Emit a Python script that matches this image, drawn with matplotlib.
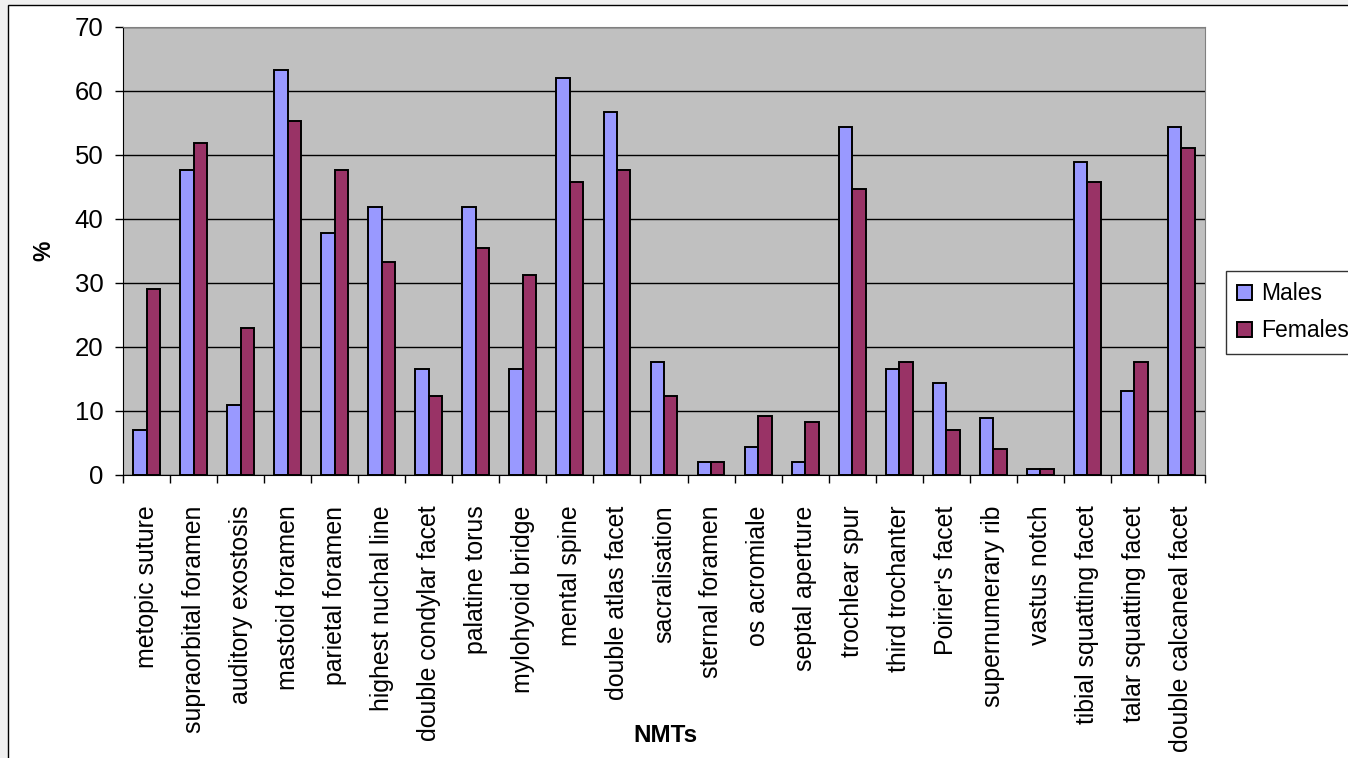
import numpy as np
import matplotlib
matplotlib.use("Agg")
import matplotlib.pyplot as plt
from matplotlib.patches import Rectangle

plt.rcParams.update({
    "font.family": ["Liberation Sans", "DejaVu Sans"],
    "font.size": 17,
})

traits = [
    "metopic suture", "supraorbital foramen", "auditory exostosis",
    "mastoid foramen", "parietal foramen", "highest nuchal line",
    "double condylar facet", "palatine torus", "mylohyoid bridge",
    "mental spine", "double atlas facet", "sacralisation",
    "sternal foramen", "os acromiale", "septal aperture", "trochlear spur",
    "third trochanter", "Poirier's facet", "supernumerary rib",
    "vastus notch", "tibial squatting facet", "talar squatting facet",
    "double calcaneal facet",
]
males = [7.0, 47.7, 10.9, 63.2, 37.8, 41.9, 16.6, 41.9, 16.6, 62.0, 56.7,
         17.7, 2.0, 4.4, 2.0, 54.4, 16.6, 14.3, 8.9, 1.0, 48.8, 13.1, 54.4]
females = [29.0, 51.8, 23.0, 55.2, 47.7, 33.2, 12.4, 35.4, 31.2, 45.7, 47.7,
           12.4, 2.0, 9.2, 8.2, 44.6, 17.7, 7.1, 4.0, 1.0, 45.7, 17.7, 51.0]
y_ticks = [0, 10, 20, 30, 40, 50, 60, 70]

W, H = 1348, 758
fig = plt.figure(figsize=(W / 100, H / 100), dpi=100)
fig.patch.set_facecolor("#f0f0f0")
# white chart frame, only its top and left edges fall inside the image
fig.add_artist(Rectangle((8 / W, -0.2), 1.2, 1.2 - 5 / H, transform=fig.transFigure,
                         facecolor="white", edgecolor="black", linewidth=1, zorder=-5))

ax = fig.add_axes([123 / W, 1 - 475 / H, (1205 - 123) / W, (475 - 26.7) / H])
ax.set_facecolor("#c0c0c0")

x = np.arange(len(traits))
w = 0.2857
ax.bar(x - w / 2, males, w, color="#9999ff", edgecolor="black",
       linewidth=1.4, label="Males", zorder=3)
ax.bar(x + w / 2, females, w, color="#993366", edgecolor="black",
       linewidth=1.4, label="Females", zorder=3)

ax.set_xlim(-0.5, len(traits) - 0.5)
ax.set_ylim(0, 70)
ax.set_yticks(y_ticks)
ax.yaxis.grid(True, color="black", linewidth=1)
ax.set_axisbelow(True)

ax.set_xticks(x)
ax.set_xticklabels(traits, rotation=90, ha="center", va="top", fontsize=17.9)
ax.set_xticks(np.arange(len(traits) + 1) - 0.5, minor=True)
ax.tick_params(axis="x", which="major", length=0, pad=22)
ax.tick_params(axis="x", which="minor", length=6, width=1, direction="out")
ax.tick_params(axis="y", length=6, width=1, direction="out", pad=8,
               labelsize=18.5)

for side in ("top", "right"):
    ax.spines[side].set_color("#808080")
for side in ("left", "bottom"):
    ax.spines[side].set_color("black")

ax.set_ylabel("%", fontweight="bold", fontsize=16.5)
ax.yaxis.set_label_coords(-68 / (1205 - 123), 0.5)
fig.text(665 / W, 1 - 736 / H, "NMTs", fontweight="bold", fontsize=17.5,
         ha="center", va="center")

leg = fig.legend(loc="upper left", bbox_to_anchor=(1226 / W, 1 - 271 / H),
                 fontsize=16.5, frameon=True, fancybox=False, edgecolor="black",
                 handlelength=0.65, handleheight=0.65, handletextpad=0.4,
                 borderpad=0.5, labelspacing=0.6, borderaxespad=0)
leg.get_frame().set_linewidth(1)

fig.savefig("out.png", dpi=100, facecolor=fig.get_facecolor())
